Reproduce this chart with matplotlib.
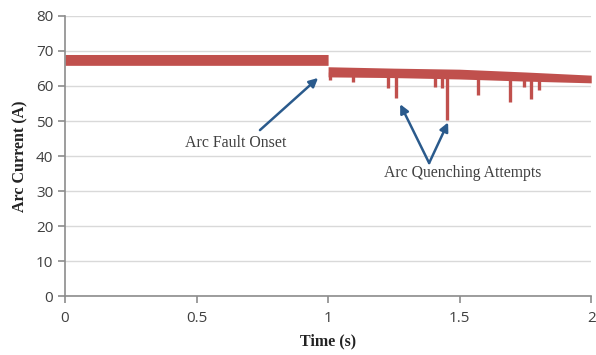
import numpy as np
import matplotlib
matplotlib.use('Agg')
import matplotlib.pyplot as plt

# band envelope of the arc current trace (A)
band_t = [0.0, 1.0, 1.0, 1.25, 1.5, 1.75, 2.0]
band_hi = [69.0, 69.0, 65.5, 65.1, 64.8, 64.0, 63.1]
band_lo = [65.9, 65.9, 62.6, 62.4, 62.0, 61.4, 60.9]

# downward spikes after fault onset
dip_t = [1.008, 1.095, 1.228, 1.259, 1.407, 1.433, 1.452, 1.570, 1.692, 1.745, 1.772, 1.802]
dip_min = [61.7, 61.0, 59.3, 56.6, 59.8, 59.3, 50.3, 57.4, 55.5, 59.8, 56.4, 58.9]

red = '#C0504D'
blue = '#2A5A8C'
grey_txt = '#404040'

fig = plt.figure(figsize=(5.96, 3.55), dpi=100)
ax = fig.add_axes([0.109, 0.166, 0.883, 0.789])

ax.fill_between(band_t, band_lo, band_hi, color=red, lw=0)
# spikes start inside the band and go down to the minimum
dip_top = np.interp(dip_t, [1.0, 1.25, 1.5, 1.75, 2.0], [64.0, 63.8, 63.4, 62.7, 62.0])
ax.vlines(dip_t, dip_min, dip_top, color=red, lw=2.4)

ax.set_xlim(0, 2)
ax.set_ylim(0, 80)
ax.set_xticks([0, 0.5, 1, 1.5, 2])
ax.set_xticklabels(['0', '0.5', '1', '1.5', '2'])
ax.set_yticks(range(0, 81, 10))
ax.grid(axis='y', color='#D9D9D9', lw=1)
ax.set_axisbelow(True)
for s in ['top', 'right']:
    ax.spines[s].set_visible(False)
for s in ['left', 'bottom']:
    ax.spines[s].set_color('#8C8C8C')
    ax.spines[s].set_linewidth(1.2)
ax.tick_params(colors='#8C8C8C', length=5, width=1.2, labelcolor=grey_txt,
               labelsize=11)
ax.tick_params(axis='x', pad=6)
for lab in ax.get_xticklabels() + ax.get_yticklabels():
    lab.set_fontfamily('Open Sans')

serif = 'Liberation Serif'
ax.set_xlabel('Time (s)', fontfamily=serif, fontweight='bold', fontsize=11.5,
              color='#222222', labelpad=5)
ax.set_ylabel('Arc Current (A)', fontfamily=serif, fontweight='bold', fontsize=11.5,
              color='#222222', labelpad=5)

arrow = dict(arrowstyle='-|>', color=blue, lw=1.8, mutation_scale=13,
             shrinkA=0, shrinkB=0)
ax.annotate('', xy=(0.962, 62.3), xytext=(0.741, 47.4), arrowprops=arrow)
ax.text(0.65, 43.8, 'Arc Fault Onset', ha='center', va='center',
        fontfamily=serif, fontsize=11.4, color=grey_txt)

ax.annotate('', xy=(1.274, 54.8), xytext=(1.384, 38.0), arrowprops=arrow)
ax.annotate('', xy=(1.456, 49.6), xytext=(1.384, 38.0), arrowprops=arrow)
ax.text(1.51, 35.2, 'Arc Quenching Attempts', ha='center', va='center',
        fontfamily=serif, fontsize=11.3, color=grey_txt)

fig.savefig('out.png', dpi=100)
